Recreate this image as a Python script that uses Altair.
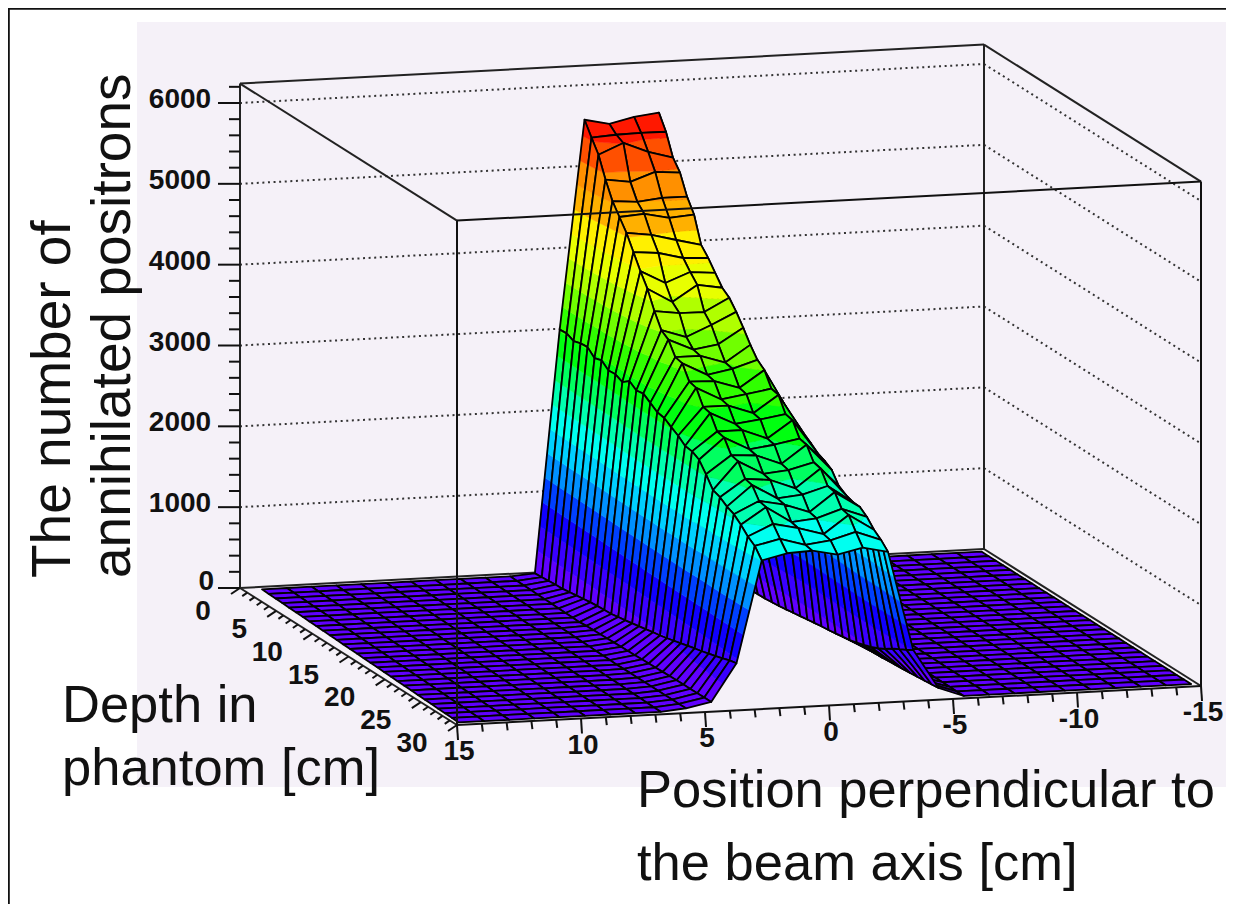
import altair as alt
import pandas as pd

# ---- data: annihilated positrons per bin, one list per position bin (index = depth bin)
N = 30
col_09 = [0]*20 + [5,8,10,12,15,18,20,22,25,28]
col_10 = [0]*11 + [10,15,20,25,30,35,40,45,50,55,60,65,70,75,78,80,85,88,90]
col_11 = [20,30,40,50,55,70,85,100,115,125,135,141,160,175,195,215,235,255,272,295,320,345,370,395,417,445,470,500,530,552]
col_12 = [3020,3030,2990,3020,3030,2950,2980,2910,2920,2880,2950,2890,2908,2850,2790,2776,2720,2670,2600,2590,2543,2420,2280,2250,2190,2153,2080,1990,1930,1807]
col_13 = [5600,5436,5280,5030,4820,4680,4540,4360,4180,4020,3800,3620,3560,3400,3380,3210,3190,3010,2990,2820,2800,2640,2620,2460,2440,2300,2280,2130,2000,1880]
col_14 = [5533,5455,5410,4985,4795,4702,4499,4332,4017,3839,3759,3519,3420,3400,3220,3200,3030,3010,2840,2820,2640,2620,2450,2430,2260,2240,2080,2060,1910,1895]
col_15 = [5604,5463,5284,5093,4827,4636,4420,4254,4137,4034,3755,3651,3470,3300,3280,3100,3080,2900,2880,2700,2680,2500,2480,2310,2290,2130,2110,1970,1950,1830]
col_16 = [5640,5460,5195,5067,4827,4660,4344,4240,4111,3983,3916,3798,3657,3503,3374,3304,3130,3110,2930,2910,2740,2720,2560,2540,2380,2360,2210,2190,2040,1900]
col_17 = [1000,1100,1150,1200,1250,1300,1300,1350,1400,1450,1500,1700,2000,2500,2850,2760,2693,2624,2558,2488,2448,2394,2252,2197,2166,2161,2094,1993,1923,1832]
col_18 = [0,0,0,10,20,30,40,45,50,60,70,85,100,115,130,145,160,170,185,200,215,240,270,300,340,390,450,500,550,600]
col_19 = [0]*15 + [10,15,20,25,30,35,40,50,58,65,75,85,95,105,115]
ridge = {9: col_09, 10: col_10, 11: col_11, 12: col_12, 13: col_13, 14: col_14,
         15: col_15, 16: col_16, 17: col_17, 18: col_18, 19: col_19}

z_ticks = [0, 1000, 2000, 3000, 4000, 5000, 6000]
depth_ticks = [0, 5, 10, 15, 20, 25, 30]
pos_ticks = [15, 10, 5, 0, -5, -10, -15]

band_colors = ["#6000FF", "#3A00FF", "#1000FF", "#0040FF", "#0090FF", "#00D0FF", "#00FFF0",
               "#00FFB0", "#00FF60", "#00FF10", "#30FF00", "#70FF00", "#B0FF00", "#E8FF00",
               "#FFF000", "#FFB000", "#FF9000", "#FF5000", "#FF1800", "#FF0000"]
band_step = 300

# ---- projection of the box: page pixels, the page margin is taken off at the end
MARGIN = 8
OX, OY = 240, 588      # depth 0, position +15, z 0
UX, UY = 744, -39      # position +15 -> -15
VX, VY = 217, 137      # depth 0 -> 30
KZ = 485 / 6000
ZTOP = 6240
WIDTH, HEIGHT = 1218, 896


def proj(a, b, z=0):
    return (OX + UX * a + VX * b - MARGIN, OY + UY * a + VY * b - KZ * z - MARGIN)


def value(j, i):
    return ridge[j][i] if j in ridge else 0


def node(j, i):
    b = (i + .5) / N
    a = (j + .75 - .55 * b * (1 - j / (N - 1))) / N
    x, y = proj(a, b, value(j, i))
    return (x, y, value(j, i))


def clip(poly, lo, hi):
    def cut(p, keep, at):
        out = []
        for k in range(len(p)):
            c, d = p[k], p[(k + 1) % len(p)]
            if keep(c):
                out.append(c)
            if keep(c) != keep(d):
                t = (at - c[2]) / (d[2] - c[2])
                out.append((c[0] + t * (d[0] - c[0]), c[1] + t * (d[1] - c[1]), at))
        return out
    p = cut(poly, lambda q: q[2] >= lo, lo)
    if p:
        p = cut(p, lambda q: q[2] <= hi, hi)
    return p


def feature(poly, fill, stroke, width):
    ring = [[round(q[0], 2), round(q[1], 2)] for q in poly]
    ring.append(ring[0])
    return {"type": "Feature", "properties": {},
            "geometry": {"type": "Polygon", "coordinates": [ring]},
            "fill_c": fill, "stroke_c": stroke, "stroke_w": width}


features = []
for i in range(N - 1):                 # far rows first
    for j in range(N - 2, -1, -1):     # far columns first
        quad = [node(j, i), node(j + 1, i), node(j + 1, i + 1), node(j, i + 1)]
        zs = [q[2] for q in quad]
        for k, colour in enumerate(band_colors):
            lo, hi = k * band_step, (k + 1) * band_step
            if max(zs) < lo or min(zs) > hi:
                continue
            part = clip(quad, lo, hi)
            if len(part) >= 3:
                features.append(feature(part, colour, colour, 0.5))
        features.append(feature(quad, "transparent", "#000000", 1.8))

surface = alt.Chart(alt.Data(values=features)).mark_geoshape(strokeJoin="round").encode(
    fill=alt.Fill("fill_c:N", scale=None),
    stroke=alt.Stroke("stroke_c:N", scale=None),
    strokeWidth=alt.StrokeWidth("stroke_w:Q", scale=None),
).project(type="identity", scale=1, translate=[0, 0])


def seg(p, q):
    return {"x": p[0], "y": p[1], "x2": q[0], "y2": q[1]}


def rules(rows, **style):
    return alt.Chart(pd.DataFrame(rows)).mark_rule(**style).encode(
        x=alt.X("x:Q", scale=None, axis=None), y=alt.Y("y:Q", scale=None, axis=None),
        x2="x2:Q", y2="y2:Q")


# backdrop
backdrop = alt.Chart(pd.DataFrame([{"x": 137 - MARGIN, "x2": WIDTH, "y": 22 - MARGIN, "y2": 787 - MARGIN}])).mark_rect(
    color="#F5F1F8").encode(
    x=alt.X("x:Q", scale=None, axis=None), y=alt.Y("y:Q", scale=None, axis=None), x2="x2:Q", y2="y2:Q")
frame = rules([seg((0.8, 0), (0.8, HEIGHT)), seg((0, 0.8), (WIDTH, 0.8))], color="#111111", strokeWidth=2)

# box
back_lines = [
    seg(proj(0, 0), proj(0, 0, ZTOP)), seg(proj(1, 0), proj(1, 0, ZTOP)),
    seg(proj(0, 0, ZTOP), proj(1, 0, ZTOP)), seg(proj(0, 0, ZTOP), proj(0, 1, ZTOP)),
    seg(proj(1, 0, ZTOP), proj(1, 1, ZTOP)), seg(proj(0, 0), proj(1, 0)),
    seg(proj(0, 0), proj(0, 1)), seg(proj(1, 0), proj(1, 1)),
]
front_lines = [
    seg(proj(0, 1), proj(0, 1, ZTOP)), seg(proj(1, 1), proj(1, 1, ZTOP)),
    seg(proj(0, 1, ZTOP), proj(1, 1, ZTOP)), seg(proj(0, 1), proj(1, 1)),
]
grid = []
for z in z_ticks[1:]:
    grid.append(seg(proj(0, 0, z), proj(1, 0, z)))
    grid.append(seg(proj(1, 0, z), proj(1, 1, z)))

ticks = []
for z in range(0, 6201, 200):
    x, y = proj(0, 0, z)
    ln = 22 if z % 1000 == 0 else 11
    ticks.append(seg((x, y), (x - ln, y)))
for p in range(-15, 16):
    x, y = proj((15 - p) / 30, 1)
    ln = 15 if p % 5 == 0 else 8
    ticks.append(seg((x, y), (x + 1, y + ln)))
for d in range(0, 31):
    x, y = proj(0, d / 30)
    major = d % 5 == 0
    ticks.append(seg((x, y), (x - (9 if major else 5), y + (6 if major else 3.5))))

# labels
labels = []
for z in z_ticks:
    x, y = proj(0, 0, z)
    labels.append({"x": x - 25 - 8.75 * len(str(z)), "y": y - 6 if z == 0 else y - 3, "t": str(z)})
for d in depth_ticks:
    x, y = proj(0, d / 30)
    labels.append({"x": x - (37 if d < 10 else 45), "y": y + 24 if d == 0 else y + 19, "t": str(d)})
for p in pos_ticks:
    x, y = proj((15 - p) / 30, 1)
    labels.append({"x": x + 2, "y": y + 27, "t": str(p)})
tick_text = alt.Chart(pd.DataFrame(labels)).mark_text(
    font="Liberation Sans", fontSize=28, fontWeight="bold", align="center", baseline="middle", color="#111111").encode(
    x=alt.X("x:Q", scale=None, axis=None), y=alt.Y("y:Q", scale=None, axis=None), text="t:N")

titles = pd.DataFrame([
    {"x": 62 - MARGIN, "y": 722 - MARGIN, "t": "Depth in"},
    {"x": 62 - MARGIN, "y": 785 - MARGIN, "t": "phantom [cm]"},
    {"x": 637 - MARGIN, "y": 807 - MARGIN, "t": "Position perpendicular to"},
    {"x": 637 - MARGIN, "y": 880 - MARGIN, "t": "the beam axis [cm]"},
])
title_text = alt.Chart(titles).mark_text(
    font="Liberation Sans", fontSize=52.5, align="left", baseline="alphabetic", color="#111111").encode(
    x=alt.X("x:Q", scale=None, axis=None), y=alt.Y("y:Q", scale=None, axis=None), text="t:N")
side = pd.DataFrame([
    {"x": 70 - MARGIN, "y": 578 - MARGIN, "t": "The number of"},
    {"x": 130 - MARGIN, "y": 578 - MARGIN, "t": "annihilated positrons"},
])
side_text = alt.Chart(side).mark_text(
    font="Liberation Sans", fontSize=55, align="left", baseline="alphabetic", angle=270, color="#111111").encode(
    x=alt.X("x:Q", scale=None, axis=None), y=alt.Y("y:Q", scale=None, axis=None), text="t:N")

chart = alt.layer(
    backdrop, frame,
    rules(grid, color="#333333", strokeWidth=2, strokeDash=[2, 3.6]),
    rules(back_lines, color="#222222", strokeWidth=2),
    surface,
    rules(front_lines + ticks, color="#111111", strokeWidth=2),
    tick_text, title_text, side_text,
).properties(width=WIDTH, height=HEIGHT, padding=0, background="white",
             autosize=alt.AutoSizeParams(type="none")
).configure_view(stroke=None)

chart.save("out.html", embed_options={"renderer": "svg", "actions": False})
